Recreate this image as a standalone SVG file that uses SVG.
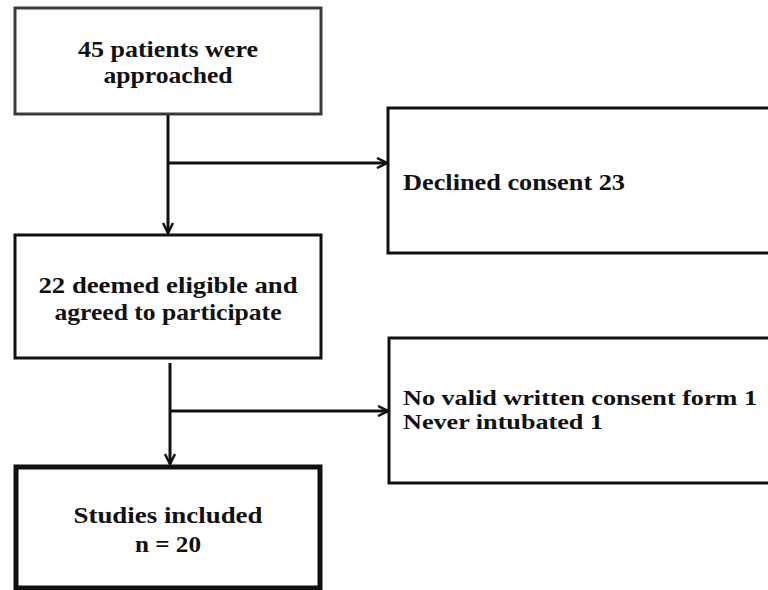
<svg xmlns="http://www.w3.org/2000/svg" width="768" height="590" viewBox="0 0 768 590">
<style>
.box{fill:#fff;stroke:#111;stroke-width:3}
.t{font-family:"Liberation Serif","DejaVu Serif",serif;font-weight:bold;font-size:24px;fill:#111}
.s{font-size:21px}
.c{text-anchor:middle}
.ln{stroke:#111;stroke-width:3;fill:none}
</style>
<defs>
<marker id="ah" viewBox="0 0 12 12" refX="11" refY="6" markerWidth="12" markerHeight="12" markerUnits="userSpaceOnUse" orient="auto">
<path d="M1,1 L11,6 L1,11" fill="none" stroke="#111" stroke-width="2.5"/>
</marker>
</defs>
<rect width="768" height="590" fill="#fff"/>
<g id="connectors">
<line class="ln" x1="168" y1="114" x2="168" y2="233" marker-end="url(#ah)"/>
<line class="ln" x1="168" y1="163" x2="387" y2="163" marker-end="url(#ah)"/>
<line class="ln" x1="170" y1="363" x2="170" y2="464" marker-end="url(#ah)"/>
<line class="ln" x1="170" y1="411" x2="388" y2="411" marker-end="url(#ah)"/>
</g>
<g id="n1">
<rect class="box" x="15" y="8" width="306" height="106" style="stroke:#3a3a3a"/>
<text class="t c" x="168" y="57" textLength="180" lengthAdjust="spacingAndGlyphs">45 patients were</text>
<text class="t c" x="168" y="83" textLength="129" lengthAdjust="spacingAndGlyphs">approached</text>
</g>
<g id="n2">
<rect class="box" x="388" y="108" width="395" height="145"/>
<text class="t" x="403" y="190" textLength="222" lengthAdjust="spacingAndGlyphs">Declined consent 23</text>
</g>
<g id="n3">
<rect class="box" x="15" y="235" width="306" height="123"/>
<text class="t c" x="168" y="293" textLength="259" lengthAdjust="spacingAndGlyphs">22 deemed eligible and</text>
<text class="t c" x="168" y="320" textLength="227" lengthAdjust="spacingAndGlyphs">agreed to participate</text>
</g>
<g id="n4">
<rect class="box" x="389" y="338" width="395" height="145"/>
<text class="t s" x="403" y="405" textLength="354" lengthAdjust="spacingAndGlyphs">No valid written consent form 1</text>
<text class="t s" x="403" y="429" textLength="200" lengthAdjust="spacingAndGlyphs">Never intubated 1</text>
</g>
<g id="n5">
<rect class="box" x="16" y="467" width="304" height="121" style="stroke-width:5"/>
<text class="t c" x="168" y="523" textLength="189" lengthAdjust="spacingAndGlyphs">Studies included</text>
<text class="t c" x="168" y="552" textLength="66" lengthAdjust="spacingAndGlyphs">n = 20</text>
</g>
</svg>
